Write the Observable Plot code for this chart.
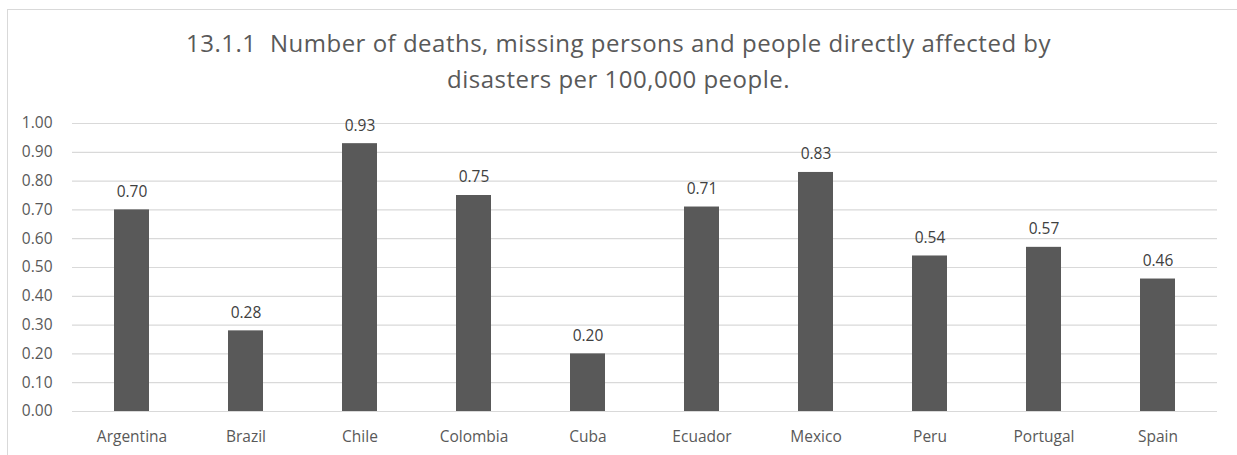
<!DOCTYPE html>
<html>
<head>
<meta charset="utf-8">
<script src="https://cdn.jsdelivr.net/npm/d3@7"></script>
<script src="https://cdn.jsdelivr.net/npm/@observablehq/plot@0.6"></script>
<style>
  html, body { margin: 0; padding: 0; background: #fff; }
  body { width: 1237px; height: 455px; overflow: hidden; position: relative; font-family: "Open Sans", "Noto Sans", sans-serif; }
  #frame {
    position: absolute; left: 7px; top: 9px; width: 1260px; height: 470px;
    border-left: 1.5px solid #d9d9d9; border-top: 1.5px solid #d9d9d9;
  }
  #title {
    position: absolute; left: 0; top: 25px; width: 1237px;
    text-align: center; color: #595959; font-size: 24px; line-height: 36px;
    letter-spacing: 0.5px;
  }
  #chart { position: absolute; left: 0; top: 100px; }
</style>
</head>
<body>
<div id="frame"></div>
<div id="title">13.1.1&nbsp; Number of deaths, missing persons and people directly affected by<br>disasters per 100,000 people.</div>
<div id="chart"></div>
<script>
// Countries and their rate per 100,000 people
const countries = ["Argentina", "Brazil", "Chile", "Colombia", "Cuba", "Ecuador", "Mexico", "Peru", "Portugal", "Spain"];
const rates = [0.70, 0.28, 0.93, 0.75, 0.20, 0.71, 0.83, 0.54, 0.57, 0.46];
const yTicks = [0, 0.1, 0.2, 0.3, 0.4, 0.5, 0.6, 0.7, 0.8, 0.9, 1.0];

const data = countries.map((c, i) => ({country: c, rate: rates[i]}));
const fmt = d3.format(".2f");

const plot = Plot.plot({
  width: 1237,
  height: 355,
  marginLeft: 72,
  marginRight: 20,
  marginTop: 23,
  marginBottom: 44,
  style: {fontFamily: "'Open Sans', 'Noto Sans', sans-serif", fontSize: "15.5px", color: "#595959", background: "transparent"},
  x: {domain: countries, paddingInner: 0.69, paddingOuter: 0.345, label: null},
  y: {domain: [0, 1], label: null},
  marks: [
    Plot.ruleY(yTicks, {stroke: "#d9d9d9", strokeWidth: 1.2}),
    Plot.axisY({ticks: yTicks, tickFormat: fmt, tickSize: 0, tickPadding: 20, fontSize: 15.5, fill: "#595959"}),
    Plot.axisX({tickSize: 0, tickPadding: 19, fontSize: 15.5, fill: "#595959"}),
    Plot.barY(data, {x: "country", y: "rate", fill: "#595959"}),
    Plot.text(data, {x: "country", y: "rate", text: d => fmt(d.rate), dy: -18, fontSize: 15.5, fill: "#404040"})
  ]
});
document.getElementById("chart").appendChild(plot);
</script>
</body>
</html>
